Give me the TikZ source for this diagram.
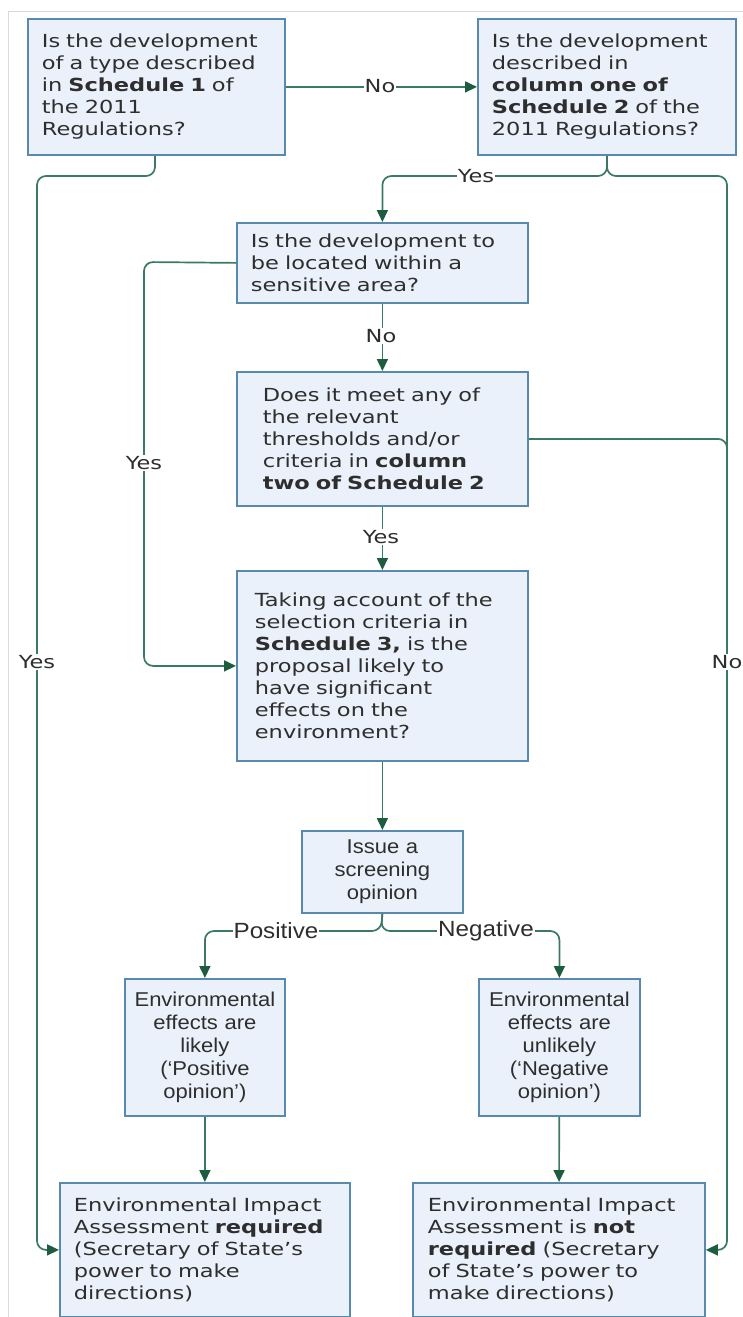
\documentclass[tikz,border=0pt]{standalone}
\usepackage{fontspec}
\newfontfamily\verdfont{DejaVu Sans}[FakeStretch=1.25]
\newfontfamily\arialfont{Liberation Sans}[FakeStretch=1.1]
\usepackage{xcolor}
\usepackage{tikz}
\usetikzlibrary{arrows.meta,positioning,calc}
\definecolor{boxfill}{HTML}{EAF1FA}
\definecolor{boxline}{HTML}{5A89AE}
\definecolor{linkc}{HTML}{3A7A62}
\definecolor{tipc}{HTML}{1D5C3E}
\definecolor{txtc}{HTML}{2E2E2E}
\definecolor{framec}{HTML}{DADADA}

\begin{document}
\begin{tikzpicture}[
    x=1pt, y=-1pt,
    qbox/.style={draw=boxline, fill=boxfill, line width=1.8pt, anchor=north west,
                 align=left, inner xsep=14pt, inner ysep=0pt, text=txtc,
                 font=\verdfont\fontsize{18}{22}\selectfont},
    sbox/.style={qbox, align=center, inner xsep=5pt,
                 font=\arialfont\fontsize{20}{23}\selectfont},
    lnk/.style={line width=1.7pt, color=linkc, rounded corners=9pt},
    arr/.style={lnk, -{Triangle[length=12pt,width=11pt,color=tipc]}},
    lbl/.style={fill=white, inner sep=1pt, text=txtc,
                font=\verdfont\fontsize{18}{22}\selectfont},
    albl/.style={lbl, font=\arialfont\fontsize{22}{24}\selectfont},
  ]
  \useasboundingbox (0,0) rectangle (743,1317);
  \draw[framec, line width=0.8pt] (8,1317) -- (8,11) -- (743,11);

  \node[qbox, text width=229pt, minimum height=136pt] (s1) at (27,18)
    {Is the development\\of a type described\\in \textbf{Schedule 1} of\\the 2011\\Regulations?};
  \node[qbox, text width=230pt, minimum height=136pt] (s2) at (477,18)
    {Is the development\\described in\\\textbf{column one of}\\\textbf{Schedule 2} of the\\2011 Regulations?};
  \node[qbox, text width=263pt, minimum height=80pt] (sens) at (236,222)
    {Is the development to\\be located within a\\sensitive area?};
  \node[qbox, inner xsep=26pt, text width=239pt, minimum height=134pt] (thr) at (236,371)
    {Does it meet any of\\the relevant\\thresholds and/or\\criteria in \textbf{column}\\\textbf{two of Schedule 2}};
  \node[qbox, inner xsep=18pt, text width=255pt, minimum height=190pt] (sel) at (236,570)
    {Taking account of the\\selection criteria in\\\textbf{Schedule 3,} is the\\proposal likely to\\have significant\\effects on the\\environment?};
  \node[sbox, text width=151pt, minimum height=82pt] (opin) at (301,830)
    {Issue a\\screening\\opinion};
  \node[sbox, text width=150pt, minimum height=137pt] (pos) at (124,978)
    {Environmental\\effects are\\likely\\(‘Positive\\opinion’)};
  \node[sbox, text width=151pt, minimum height=137pt] (neg) at (478,978)
    {Environmental\\effects are\\unlikely\\(‘Negative\\opinion’)};
  \node[qbox, text width=262pt, minimum height=134pt] (eiareq) at (59,1182)
    {Environmental Impact\\Assessment \textbf{required}\\(Secretary of State’s\\power to make\\directions)};
  \node[qbox, inner xsep=15pt, text width=262pt, minimum height=134pt] (eianot) at (412,1182)
    {Environmental Impact\\Assessment is \textbf{not}\\\textbf{required} (Secretary\\of State’s power to\\make directions)};

  % junctions
  \coordinate (j1) at (155,176);
  \coordinate (j2) at (607,176);
  \coordinate (j3) at (381,931);
  \coordinate (lft) at (37,176);
  \coordinate (rgt) at (727,176);
  \coordinate (yl) at (144,262);

  \draw[arr] (s1) -- (s2);
  \draw[arr] (s1.south -| j1) -- (j1) -- (lft) -- (lft |- eiareq.west) -- (eiareq.west);
  \draw[arr] (s2.south -| j2) -- (j2) -- (j2 -| sens.north) -- (sens.north);
  \draw[arr] (s2.south -| j2) -- (j2) -- (rgt) -- (rgt |- eianot.east) -- (eianot.east);
  \draw[arr] (sens.west) -- (yl) -- (yl |- sel.west) -- (sel.west);
  \draw[arr] (sens) -- (thr);
  \draw[lnk] (thr.east) -- (thr.east -| rgt) -- ++(0,30);
  \draw[arr] (thr) -- (sel);
  \draw[arr] (sel) -- (opin);
  \draw[arr] (opin.south) -- (j3) -- (j3 -| pos.north) -- (pos.north);
  \draw[arr] (opin.south) -- (j3) -- (j3 -| neg.north) -- (neg.north);
  \draw[arr] (pos) -- (eiareq);
  \draw[arr] (neg) -- (eianot);

  % labels
  \node[lbl] (no1) at (380,86) {No};
  \node[lbl] (yes1) at (476,176) {Yes};
  \node[lbl] (yes2) at (37,662) {Yes};
  \node[lbl] (no2) at (727,662) {No};
  \node[lbl] (yes3) at (144,463) {Yes};
  \node[lbl] (no3) at (381,336) {No};
  \node[lbl] (yes4) at (381,537) {Yes};
  \node[albl] (plab) at (276,931) {Positive};
  \node[albl] (nlab) at (486,931) {Negative};
\end{tikzpicture}
\end{document}
